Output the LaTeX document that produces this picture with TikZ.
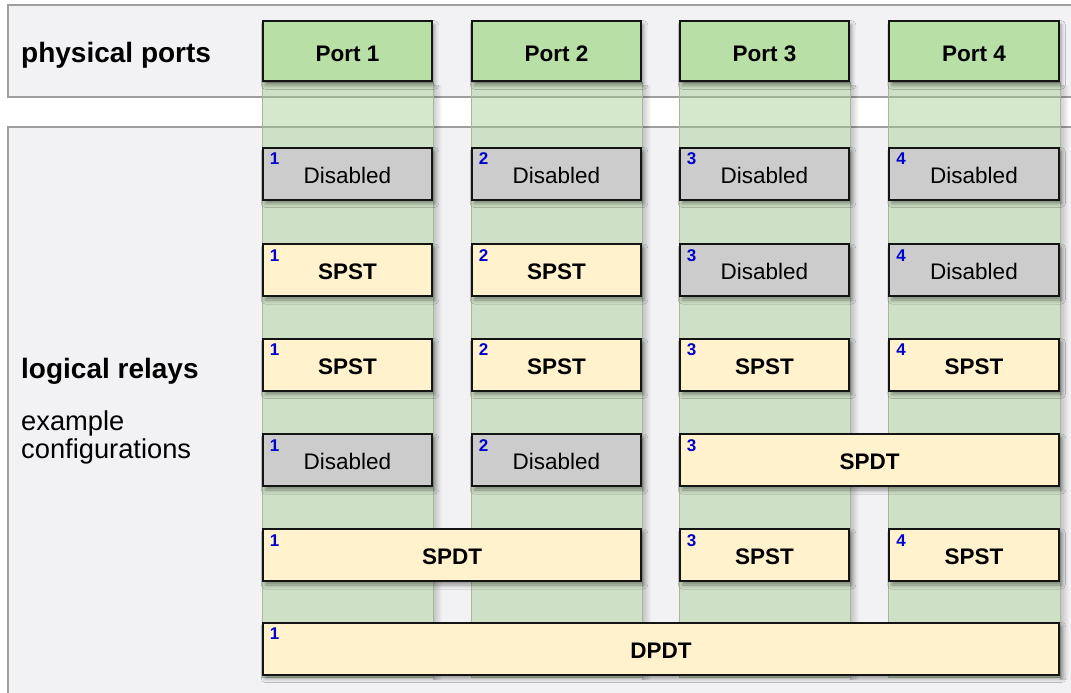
\documentclass[tikz,border=0pt]{standalone}
\usepackage{fontspec}
\setmainfont{Liberation Sans}
\usetikzlibrary{shadows.blur,fadings}
\definecolor{panelfill}{HTML}{F2F2F4}
\definecolor{panelline}{HTML}{9E9E9E}
\definecolor{portgreen}{HTML}{B8DFA6}
\definecolor{stripgreen}{HTML}{A3CB8C}
\definecolor{stripline}{HTML}{A8B8A0}
\definecolor{offgray}{HTML}{CCCCCC}
\definecolor{onyellow}{HTML}{FFF2CC}
\definecolor{boxline}{HTML}{141414}
\definecolor{numblue}{HTML}{0000CC}
\begin{document}
\begin{tikzpicture}[x=1pt,y=-1pt,
  panel/.style={draw=panelline, line width=1.6pt, fill=panelfill},
  strip/.style={fill=stripgreen, fill opacity=0.45, draw=stripline, line width=0.6pt},
  stripshade/.style={fill=black, opacity=0.2, path fading=east},
  box/.style={draw=boxline, line width=2pt, minimum height=52pt, minimum width=169.5pt,
    inner sep=0pt, text height=19.5pt, text depth=0pt,
    font=\fontsize{22.5}{27}\selectfont,
    blur shadow={shadow xshift=2.5pt, shadow yshift=-4pt, shadow blur radius=4pt, shadow opacity=40}},
  port/.style={box, fill=portgreen, minimum height=60.5pt, text height=20.5pt, font=\bfseries\fontsize{22.5}{27}\selectfont},
  off/.style={box, fill=offgray},
  on/.style={box, fill=onyellow, font=\bfseries\fontsize{22.5}{27}\selectfont},
  num/.style={anchor=north west, inner sep=0pt, text height=12pt, text=numblue, font=\fontsize{17}{19}\selectfont\bfseries},
  head/.style={anchor=base west, inner sep=0pt, font=\bfseries\fontsize{28}{32}\selectfont},
  sub/.style={anchor=base west, inner sep=0pt, font=\fontsize{27.3}{28}\selectfont}
]
\useasboundingbox (0,0) rectangle (1071,693);
\clip (0,0) rectangle (1071,693);
% panels
\draw[panel] (8,5) rectangle (1090,97);
\draw[panel] (8,127) rectangle (1090,710);
% column strip shadows
\fill[stripshade] (433,84) rectangle (442,680);
\fill[stripshade] (642,84) rectangle (651,680);
\fill[stripshade] (850,84) rectangle (859,680);
\fill[stripshade] (1060,84) rectangle (1069,680);
% column strips
\draw[strip] (262,82) rectangle (433,677);
\draw[strip] (471,82) rectangle (642,677);
\draw[strip] (679,82) rectangle (850,677);
\draw[strip] (888,82) rectangle (1060,677);
% headings
\node[head] (hphys) at (21,63) {physical ports};
\node[head] (hlog) at (21,378) {logical relays};
\node[sub] (hex1) at (21,430) {example};
\node[sub] (hex2) at (21,458) {configurations};
% ports
\node[port] (p1) at (347.5,51) {Port 1};
\node[port] (p2) at (556.5,51) {Port 2};
\node[port] (p3) at (764.5,51) {Port 3};
\node[port] (p4) at (974,51) {Port 4};
% row 1
\node[off] (a1) at (347.5,173.5) {Disabled};
\node[off] (a2) at (556.5,173.5) {Disabled};
\node[off] (a3) at (764.5,173.5) {Disabled};
\node[off] (a4) at (974,173.5) {Disabled};
% row 2
\node[on]  (b1) at (347.5,270) {SPST};
\node[on]  (b2) at (556.5,270) {SPST};
\node[off] (b3) at (764.5,270) {Disabled};
\node[off] (b4) at (974,270) {Disabled};
% row 3
\node[on] (c1) at (347.5,364.5) {SPST};
\node[on] (c2) at (556.5,364.5) {SPST};
\node[on] (c3) at (764.5,364.5) {SPST};
\node[on] (c4) at (974,364.5) {SPST};
% row 4
\node[off] (d1) at (347.5,460) {Disabled};
\node[off] (d2) at (556.5,460) {Disabled};
\node[on, minimum width=379.5pt] (d3) at (869.5,460) {SPDT};
% row 5
\node[on, minimum width=378.5pt] (e1) at (452,555) {SPDT};
\node[on] (e3) at (764.5,555) {SPST};
\node[on] (e4) at (974,555) {SPST};
% row 6
\node[on, minimum width=796.5pt] (f1) at (661,648.5) {DPDT};
% numbers
\foreach \b/\n in {a1/1,a2/2,a3/3,a4/4,b1/1,b2/2,b3/3,b4/4,c1/1,c2/2,c3/3,c4/4,d1/1,d2/2,d3/3,e1/1,e3/3,e4/4,f1/1}
  \node[num] (n\b) at ([xshift=8pt,yshift=-6pt]\b.north west) {\n};
\end{tikzpicture}
\end{document}
